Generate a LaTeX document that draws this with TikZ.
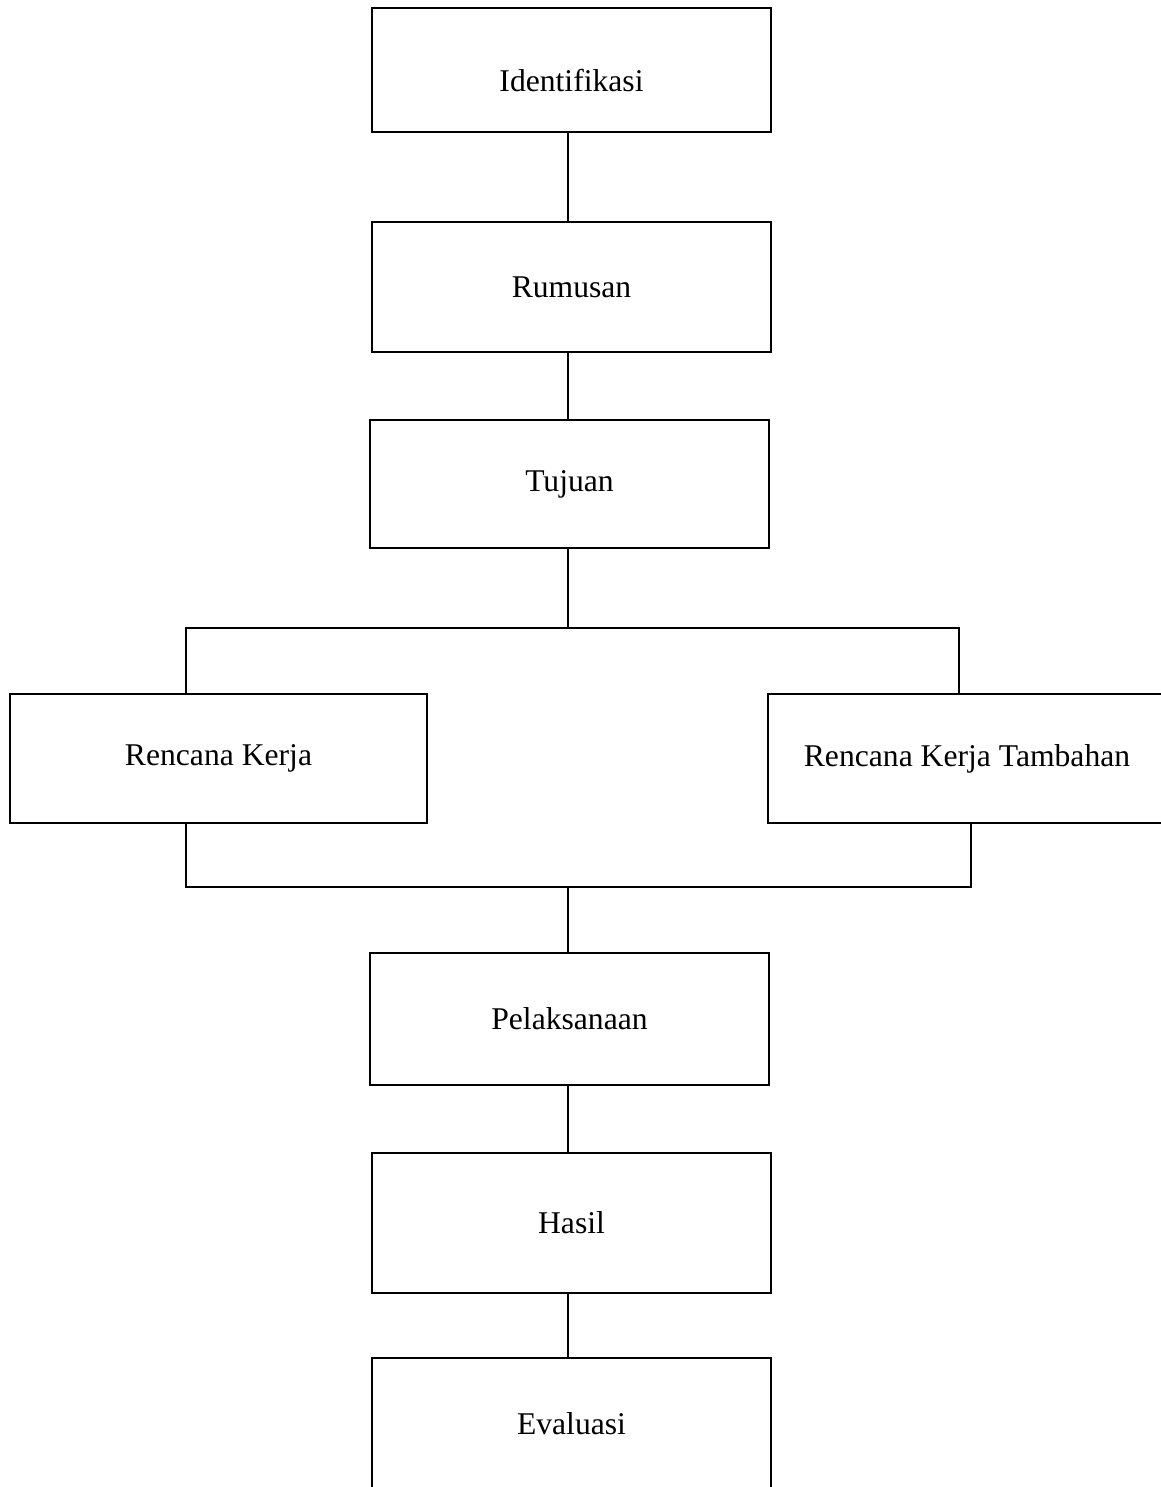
\documentclass[tikz,border=0pt]{standalone}
\usepackage{fontspec}
\setmainfont{Liberation Serif}
\usetikzlibrary{positioning, calc}

\begin{document}
\begin{tikzpicture}[
  stage/.style={rectangle, draw=black, line width=1.1pt, minimum width=7.98cm,
                align=center, inner sep=0pt, font=\fontsize{18}{22}\selectfont},
  link/.style={draw=black, line width=1.1pt}
]
  \useasboundingbox (0,0) rectangle (23.2,-29.74);
  \node[stage, minimum height=2.48cm, text height=0.88cm, text depth=0pt] (idf) at (11.43,-1.40)  {Identifikasi};
  \node[stage, minimum height=2.60cm] (rum) at (11.43,-5.74)  {Rumusan};
  \node[stage, minimum height=2.56cm] (tuj) at (11.39,-9.68)  {Tujuan};
  \node[stage, minimum height=2.58cm, minimum width=8.34cm] (rk)  at (4.37,-15.17)  {Rencana Kerja};
  \node[stage, minimum height=2.58cm, minimum width=7.96cm] (rkt) at (19.34,-15.17) {Rencana Kerja Tambahan};
  \node[stage, minimum height=2.64cm] (pel) at (11.39,-20.38) {Pelaksanaan};
  \node[stage, minimum height=2.80cm] (has) at (11.43,-24.46) {Hasil};
  \node[stage, minimum height=2.64cm] (eva) at (11.43,-28.48) {Evaluasi};
  \coordinate (spine)  at (11.36,0);
  \coordinate (splitL) at (3.72,-12.56);
  \coordinate (splitR) at (19.18,-12.56);
  \coordinate (joinL)  at (3.72,-17.74);
  \coordinate (joinM)  at (11.36,-17.74);
  \coordinate (joinR)  at (19.42,-17.74);
  \draw[link] (idf.south -| spine) -- (rum.north -| spine);
  \draw[link] (rum.south -| spine) -- (tuj.north -| spine);
  \draw[link] (tuj.south -| spine) -- (splitL -| spine);
  \draw[link] (splitL |- rk.north) -- (splitL) -- (splitR) -- (splitR |- rkt.north);
  \draw[link] (joinL |- rk.south) -- (joinL) -- (joinR) -- (joinR |- rkt.south);
  \draw[link] (joinM) -- (joinM |- pel.north);
  \draw[link] (pel.south -| spine) -- (has.north -| spine);
  \draw[link] (has.south -| spine) -- (eva.north -| spine);
\end{tikzpicture}
\end{document}
